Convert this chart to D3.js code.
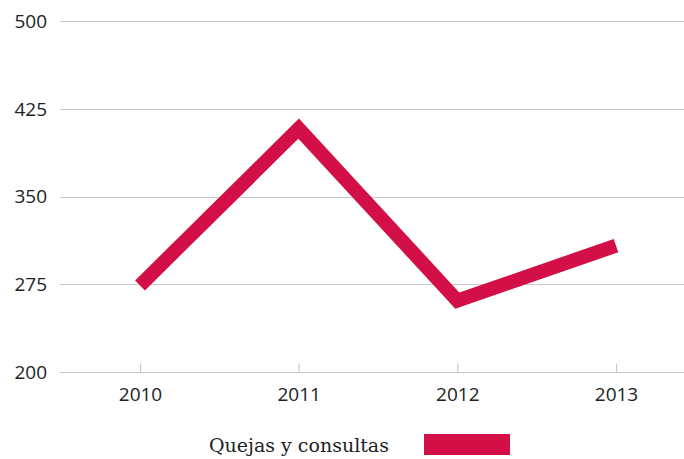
<!DOCTYPE html>
<html><head><meta charset="utf-8">
<script src="https://cdn.jsdelivr.net/npm/d3@7"></script>
<style>
body{margin:0;background:#fff;}
svg{display:block;}
</style></head>
<body>
<script>
const categories = ["2010","2011","2012","2013"];
const values = [274, 408, 261, 308];
const yTicks = [200, 275, 350, 425, 500];
const seriesName = "Quejas y consultas";

const W = 684, H = 459;
const color = "#d30f47";
const svg = d3.select("body").append("svg").attr("width", W).attr("height", H);

const x = d3.scalePoint().domain(categories).range([140, 616]);
const y = d3.scaleLinear().domain([200, 500]).range([372, 21]);

// gridlines
svg.append("g").selectAll("line").data(yTicks).join("line")
  .attr("x1", 60).attr("x2", W)
  .attr("y1", d => Math.round(y(d)) + 0.5).attr("y2", d => Math.round(y(d)) + 0.5)
  .attr("stroke", "#c8c8c8").attr("stroke-width", 1.2);

// y labels
svg.append("g").selectAll("text").data(yTicks).join("text")
  .attr("x", 47).attr("y", d => y(d)).attr("dy", "0.36em")
  .attr("text-anchor", "end")
  .attr("font-family", "'Open Sans', sans-serif").attr("font-size", 19)
  .attr("fill", "#222").text(d => d);

// x axis ticks
const xAxis = d3.axisBottom(x).tickSize(-9).tickPadding(15);
const gx = svg.append("g").attr("transform", "translate(0,372.5)").call(xAxis);
gx.select(".domain").remove();
gx.selectAll(".tick line").attr("stroke", "#c8c8c8").attr("stroke-width", 1.2);
gx.selectAll(".tick text").attr("font-family", "'Open Sans', sans-serif")
  .attr("font-size", 19).attr("fill", "#222");

// line
const line = d3.line().x((d, i) => x(categories[i])).y(d => y(d));
svg.append("path").datum(values).attr("d", line)
  .attr("fill", "none").attr("stroke", color).attr("stroke-width", 14)
  .attr("stroke-linejoin", "miter").attr("stroke-linecap", "butt");

// legend
svg.append("text").attr("x", 209).attr("y", 452)
  .attr("font-family", "'DejaVu Serif', serif").attr("font-size", 19)
  .attr("fill", "#222").text(seriesName);
svg.append("rect").attr("x", 424).attr("y", 434).attr("width", 86).attr("height", 21)
  .attr("fill", color);
</script>
</body></html>
